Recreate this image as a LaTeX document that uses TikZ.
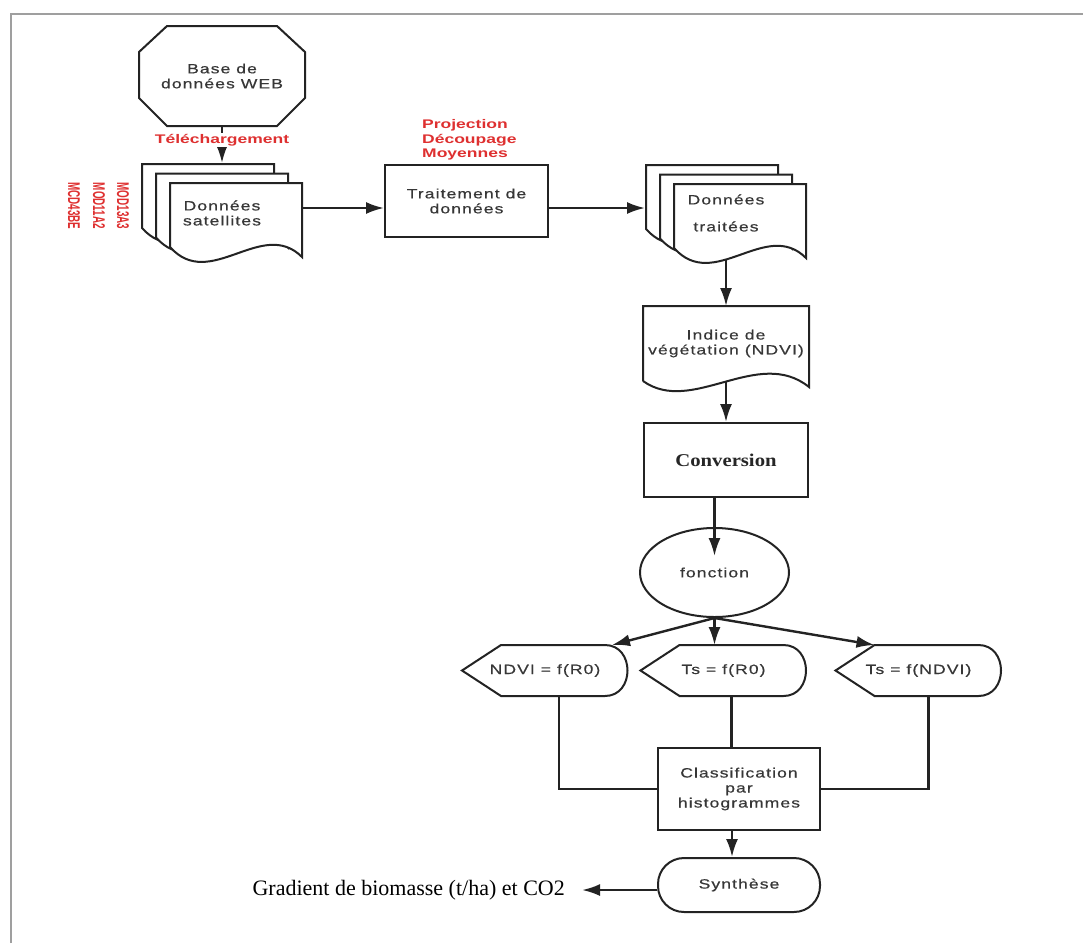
\documentclass[tikz,border=0pt]{standalone}
\usepackage{fontspec}
\setmainfont{Liberation Serif}
\newfontfamily\boxfont[FakeStretch=1.3,LetterSpace=8,FakeBold=0.5]{Liberation Sans}
\newfontfamily\redfont[FakeStretch=1.4]{Liberation Sans}
\newfontfamily\modfont[FakeStretch=0.58]{Liberation Sans}
\newfontfamily\convfont[FakeStretch=1.15]{Liberation Serif}
\usetikzlibrary{arrows.meta,calc,positioning,shapes.geometric}

\definecolor{lblred}{RGB}{222,48,48}
\definecolor{txtgray}{RGB}{55,55,55}
\definecolor{linegray}{RGB}{35,35,35}

\tikzset{
  box/.style={draw=linegray,line width=2pt,fill=white,align=center,
    font=\boxfont\fontsize{13.5}{15}\selectfont,text=txtgray,inner sep=0pt},
  ghost/.style={box,draw=none,fill=none},
  outline/.style={draw=linegray,line width=2pt},
  sheet/.style={outline,fill=white},
  arr/.style={line width=2.4pt,draw=linegray,-{Latex[length=18pt,width=12pt]}},
  link/.style={line width=2.2pt,draw=linegray},
  redlbl/.style={font=\redfont\bfseries\fontsize{12.5}{14.5}\selectfont,text=lblred,inner sep=1pt},
  modlbl/.style={font=\modfont\bfseries\fontsize{17}{17}\selectfont,text=lblred,rotate=-90,inner sep=0pt},
}

\begin{document}
\begin{tikzpicture}[x=1pt,y=-1pt]
\useasboundingbox (0,0) rectangle (1083,943);
% Frame
\draw[gray!75,line width=1.8pt] (11,943) -- (11,14) -- (1083,14);

% Web database (octagon)
\node[ghost,minimum width=164pt,minimum height=98pt] (web) at (222,76) {Base de\\données WEB};
\draw[outline] ([xshift=28pt]web.north west) -- ([xshift=-28pt]web.north east)
  -- ([yshift=-26pt]web.north east) -- ([yshift=28pt]web.south east)
  -- ([xshift=-28pt]web.south east) -- ([xshift=28pt]web.south west)
  -- ([yshift=28pt]web.south west) -- ([yshift=-26pt]web.north west) -- cycle;

% Stacked documents
\foreach \dx/\dy in {0/0,14/9.5,28/19}{
  \draw[sheet,shift={(142+\dx,164+\dy)}] (0,0) -- (132,0) -- (132,74)
    .. controls (92,34) and (40,109) .. (0,64) -- cycle;
  \draw[sheet,shift={(646+\dx,165+\dy)}] (0,0) -- (132,0) -- (132,74)
    .. controls (92,34) and (40,109) .. (0,64) -- cycle;
}
\node[ghost,minimum width=160pt,minimum height=98pt] (sat) at (222,213) {Données\\satellites};
\node[ghost,minimum width=160pt,minimum height=98pt] (trt) at (726,213) {Données\\[12pt]traitées};

% Processing
\node[box,minimum width=163pt,minimum height=72pt] (proc) at (466.5,201) {Traitement de\\données};

% Red annotations
\node[redlbl,align=left,anchor=west] (ops) at (421,140) {Projection\\Découpage\\Moyennes};
\node[modlbl] (mcd) at (74,206) {MCD43BE};
\node[modlbl] (mod11) at (99,206) {MOD11A2};
\node[modlbl] (mod13) at (123,206) {MOD13A3};

% NDVI document
\node[ghost,minimum width=164pt,minimum height=73pt] (ndvi) at (726,343.5) {Indice de\\végétation (NDVI)};
\draw[outline] (ndvi.south west) -- (ndvi.north west) -- (ndvi.north east) -- ([yshift=-6pt]ndvi.south east)
  .. controls ($(ndvi.south west)+(115,-35)$) and ($(ndvi.south west)+(49,35)$) .. (ndvi.south west);

% Conversion and function
\node[box,font=\convfont\bfseries\fontsize{18}{20}\selectfont,text=black!85,
  minimum width=164pt,minimum height=74pt] (conv) at (726,460) {Conversion};
\node[box,ellipse,minimum width=149pt,minimum height=89pt] (fct) at (714.5,572.5) {fonction};

% Display shapes
\node[ghost,minimum width=164pt,minimum height=49pt] (f1) at (545,670.5) {NDVI = f(R0)};
\node[ghost,minimum width=164pt,minimum height=49pt] (f2) at (723.5,670.5) {Ts = f(R0)};
\node[ghost,minimum width=164pt,minimum height=49pt] (f3) at (918.5,670.5) {Ts = f(NDVI)};
\foreach \n in {f1,f2,f3}
  \draw[outline] (\n.west) -- ([xshift=39pt]\n.north west) -- ([xshift=-23pt]\n.north east)
    .. controls +(30,0) and +(30,0) .. ([xshift=-23pt]\n.south east)
    -- ([xshift=39pt]\n.south west) -- cycle;

% Classification and synthesis
\node[box,minimum width=162pt,minimum height=82pt] (cls) at (739,789) {Classification\\par\\histogrammes};
\node[box,rounded corners=26pt,minimum width=162pt,minimum height=54pt] (syn) at (739,885) {Synthèse};
\node[font=\fontsize{22}{24}\selectfont,anchor=east,inner sep=0pt] (grad) at (565,890) {Gradient de biomasse (t/ha) et CO2};

% Connectors
\draw[arr] (web.south) -- node[redlbl,fill=white,pos=0.38] (dl) {Téléchargement} (sat.north);
\coordinate (row) at (0,208);
\draw[arr] (sat.east |- row) -- (proc.west |- row);
\draw[arr] (proc.east |- row) -- (trt.west |- row);
\draw[arr] ([yshift=4pt]trt.south) -- (ndvi.north);
\draw[arr] (ndvi.south) -- (conv.north);
\draw[arr] (conv.south -| fct.north) -- ([yshift=-29pt]fct.north);
\draw[arr] (fct.south) -- ([xshift=67pt]f1.north);
\draw[arr] (fct.south) -- (fct.south |- f2.north);
\draw[arr] (fct.south) -- ([xshift=39pt]f3.north west);
\draw[link] ([xshift=14pt]f1.south) |- (cls.west);
\draw[link] ([xshift=8pt]f2.south) -- ([xshift=8pt]f2.south |- cls.north);
\draw[link] ([xshift=10pt]f3.south) |- (cls.east);
\draw[arr] ([xshift=-7pt]cls.south) -- ([xshift=-7pt]syn.north);
\draw[arr,shorten >=17pt] ([yshift=-5pt]syn.west) -- ([yshift=-5pt]syn.west -| grad.east);
\end{tikzpicture}
\end{document}
